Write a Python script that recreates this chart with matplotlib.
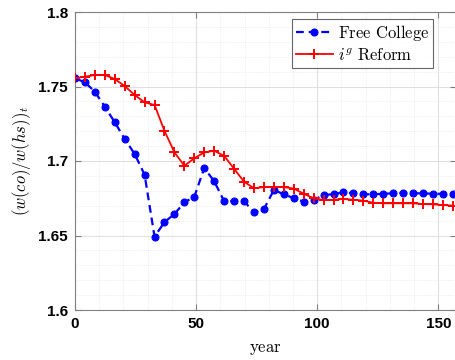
import numpy as np
import matplotlib
matplotlib.use("Agg")
import matplotlib.pyplot as plt
from matplotlib.ticker import MultipleLocator

plt.rcParams["mathtext.fontset"] = "cm"

# model periods (evenly spaced over the simulation horizon)
years = np.linspace(0, 156, 39)

free_college = [
    1.7555, 1.7528, 1.7465, 1.7364, 1.7260, 1.7148, 1.7047, 1.6908, 1.6492, 1.6590,
    1.6644, 1.6723, 1.6760, 1.6953, 1.6864, 1.6730, 1.6730, 1.6730, 1.6656, 1.6678,
    1.6805, 1.6777, 1.6750, 1.6727, 1.6738, 1.6772, 1.6777, 1.6790, 1.6783, 1.6777,
    1.6777, 1.6780, 1.6783, 1.6787, 1.6783, 1.6783, 1.6780, 1.6780, 1.6780,
]

ig_reform = [
    1.7555, 1.7566, 1.7577, 1.7577, 1.7550, 1.7503, 1.7443, 1.7394, 1.7376, 1.7202,
    1.7058, 1.6968, 1.7018, 1.7058, 1.7069, 1.7034, 1.6948, 1.6861, 1.6817, 1.6825,
    1.6825, 1.6825, 1.6815, 1.6780, 1.6750, 1.6738, 1.6740, 1.6745, 1.6740, 1.6734,
    1.6720, 1.6716, 1.6716, 1.6716, 1.6716, 1.6711, 1.6709, 1.6705, 1.6700,
]

fig = plt.figure(figsize=(4.56, 3.6), dpi=100)
ax = fig.add_axes([75 / 456, 50 / 360, 381 / 456, 298 / 360])

ax.plot(years, free_college, color=(0, 0, 1), linestyle="--", dashes=(3.5, 2.2),
        linewidth=1.6, marker="o", markersize=5, markeredgewidth=0.8,
        label=r"$\mathrm{Free\ College}$", zorder=3)
ax.plot(years, ig_reform, color=(1, 0, 0), linestyle="-", linewidth=1.3,
        marker="+", markersize=7, markeredgewidth=1.4,
        label=r"$i^g\ \mathrm{Reform}$", zorder=4)

ax.set_xlim(0, 157.3)
ax.set_ylim(1.6, 1.8)
ax.set_xticks([0, 50, 100, 150])
ax.set_yticks([1.6, 1.65, 1.7, 1.75, 1.8])
ax.set_yticklabels(["1.6", "1.65", "1.7", "1.75", "1.8"])
ax.xaxis.set_minor_locator(MultipleLocator(10))
ax.yaxis.set_minor_locator(MultipleLocator(0.01))

ax.grid(True, which="major", color="#e0e0e0", linewidth=0.8, linestyle="-", zorder=0)
ax.grid(True, which="minor", color="#e6e6e6", linewidth=0.6, linestyle=":", zorder=0)
ax.set_axisbelow(True)

for s in ax.spines.values():
    s.set_color("#808080")
    s.set_linewidth(0.8)

ax.tick_params(which="both", direction="in", top=True, right=True,
               colors="#808080", labelcolor="black")
ax.tick_params(which="major", length=4)
ax.tick_params(which="minor", length=0)
for lab in ax.get_xticklabels() + ax.get_yticklabels():
    lab.set_fontfamily("Liberation Sans")
    lab.set_fontweight("bold")
    lab.set_fontsize(11)
ax.tick_params(axis="x", pad=5)
ax.tick_params(axis="y", pad=5)

ax.set_xlabel(r"$\mathrm{year}$", fontsize=12, labelpad=6)
ax.set_ylabel(r"$(w(co)/w(hs))_t$", fontsize=12, labelpad=4)

leg = ax.legend(loc="upper right", bbox_to_anchor=(433 / 456, 1 - 19 / 360),
                bbox_transform=fig.transFigure, borderaxespad=0,
                fontsize=12, frameon=True, fancybox=False, borderpad=0.25,
                handlelength=2.2, handletextpad=0.3, labelspacing=0.15)
leg.get_frame().set_edgecolor("#404040")
leg.get_frame().set_linewidth(0.8)

fig.savefig("out.png", dpi=100)
